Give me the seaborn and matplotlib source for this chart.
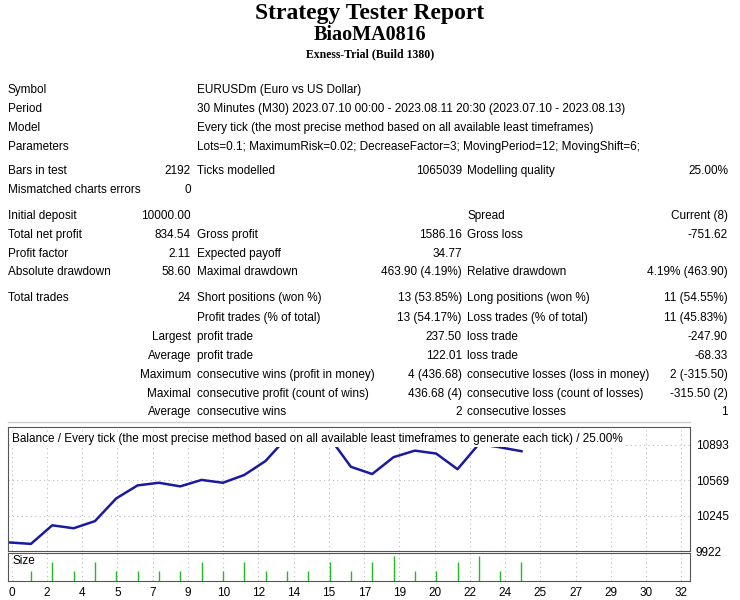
import numpy as np
import pandas as pd
import seaborn as sns
import matplotlib.pyplot as plt

# balance after each trade (trade 0 = initial deposit)
balance = [10000, 9987, 10157, 10130, 10195, 10403, 10522, 10546, 10513, 10572,
           10546, 10617, 10745, 10960, 10888, 10960, 10692, 10626, 10780, 10840,
           10813, 10670, 10900, 10870, 10834.54]
# lot size of each trade (trades 1..24)
lots = [0.1, 0.2, 0.1, 0.2, 0.1, 0.1, 0.1, 0.1, 0.2, 0.1, 0.2, 0.1,
        0.1, 0.1, 0.2, 0.1, 0.2, 0.26, 0.1, 0.1, 0.2, 0.26, 0.1, 0.2]
x_tick_labels = ["0", "2", "4", "5", "7", "9", "10", "12", "14", "15", "17", "19",
                 "20", "22", "24", "25", "27", "29", "30", "32"]
y_ticks = [9922, 10245, 10569, 10893]

header = [
    ("Symbol", "EURUSDm (Euro vs US Dollar)"),
    ("Period", "30 Minutes (M30) 2023.07.10 00:00 - 2023.08.11 20:30 (2023.07.10 - 2023.08.13)"),
    ("Model", "Every tick (the most precise method based on all available least timeframes)"),
    ("Parameters", "Lots=0.1; MaximumRisk=0.02; DecreaseFactor=3; MovingPeriod=12; MovingShift=6;"),
]
# rows: (y px, label, value1, label2, value2, label3, value3)
rows = [
    (171, "Bars in test", "2192", "Ticks modelled", "1065039", "Modelling quality", "25.00%"),
    (190, "Mismatched charts errors", "0", "", "", "", ""),
    (216, "Initial deposit", "10000.00", "", "", "Spread", "Current (8)"),
    (235, "Total net profit", "834.54", "Gross profit", "1586.16", "Gross loss", "-751.62"),
    (254, "Profit factor", "2.11", "Expected payoff", "34.77", "", ""),
    (272, "Absolute drawdown", "58.60", "Maximal drawdown", "463.90 (4.19%)", "Relative drawdown", "4.19% (463.90)"),
    (298, "Total trades", "24", "Short positions (won %)", "13 (53.85%)", "Long positions (won %)", "11 (54.55%)"),
    (318, "", "", "Profit trades (% of total)", "13 (54.17%)", "Loss trades (% of total)", "11 (45.83%)"),
    (337, "", "Largest", "profit trade", "237.50", "loss trade", "-247.90"),
    (356, "", "Average", "profit trade", "122.01", "loss trade", "-68.33"),
    (375, "", "Maximum", "consecutive wins (profit in money)", "4 (436.68)", "consecutive losses (loss in money)", "2 (-315.50)"),
    (394, "", "Maximal", "consecutive profit (count of wins)", "436.68 (4)", "consecutive loss (count of losses)", "-315.50 (2)"),
    (412, "", "Average", "consecutive wins", "2", "consecutive losses", "1"),
]

W, H = 740, 600
fig = plt.figure(figsize=(W / 100, H / 100), dpi=100)
font = {"family": ["Liberation Sans Narrow", "Liberation Sans", "DejaVu Sans"], "size": 8.5}
serif = ["Liberation Serif", "DejaVu Serif"]


def put(x, y, s, ha="left", **kw):
    opts = dict(font)
    opts.update(kw)
    fig.text(x / W, 1 - y / H, s, ha=ha, va="center", **opts)


put(370, 13, "Strategy Tester Report", ha="center", family=serif, size=17, weight="bold")
put(370, 35, "BiaoMA0816", ha="center", family=serif, size=14.5, weight="bold")
put(370, 54, "Exness-Trial (Build 1380)", ha="center", family=serif, size=8.5, weight="bold")

for i, (lab, val) in enumerate(header):
    y = 90 + i * 19
    put(8, y, lab)
    put(197, y, val)

for y, l1, v1, l2, v2, l3, v3 in rows:
    put(8, y, l1)
    put(191, y, v1, ha="right")
    put(197, y, l2)
    put(462, y, v2, ha="right")
    put(467, y, l3)
    put(728, y, v3, ha="right")

fig.add_artist(plt.Line2D([8 / W, 690 / W], [1 - 422 / H] * 2, color="#cccccc", lw=1))

# balance chart
ax = fig.add_axes([8 / W, 1 - 551 / H, 682 / W, 124 / H])
df = pd.DataFrame({"trade": np.arange(len(balance)), "balance": balance})
sns.lineplot(data=df, x="trade", y="balance", ax=ax, color="#1a1aa0", lw=1.8)
xmin, xmax = -0.075, 31.9
ax.set_xlim(xmin, xmax)
ax.set_ylim(9922, 11056)
ax.set_yticks(y_ticks)
ax.yaxis.tick_right()
ax.set_yticklabels([str(t) for t in y_ticks], fontdict=font)
xt = np.linspace(0.1, 31.5, len(x_tick_labels))
ax.set_xticks(xt)
ax.set_xticklabels([])
ax.tick_params(length=0, pad=4)
ax.grid(True, color="#bbbbbb", ls=(0, (1, 3)), lw=0.8)
ax.set_xlabel("")
ax.set_ylabel("")
ax.text(0.006, 0.9, "Balance / Every tick (the most precise method based on all available least timeframes to generate each tick) / 25.00%",
        transform=ax.transAxes, ha="left", va="center", fontdict=font,
        bbox=dict(facecolor="white", edgecolor="none", pad=1))
for s in ax.spines.values():
    s.set_color("#555555")

# size chart
ax2 = fig.add_axes([8 / W, 1 - 581 / H, 682 / W, 28 / H])
ax2.vlines(np.arange(1, len(lots) + 1), 0, lots, color="#22bb22", lw=1)
ax2.set_xlim(xmin, xmax)
ax2.set_ylim(0, 0.29)
ax2.set_yticks([])
ax2.set_xticks(xt)
ax2.set_xticklabels(x_tick_labels, fontdict=font)
ax2.tick_params(length=0, pad=4)
ax2.grid(True, axis="x", color="#bbbbbb", ls=(0, (1, 3)), lw=0.8)
ax2.text(0.006, 0.72, "Size", transform=ax2.transAxes, ha="left", va="center", fontdict=font)
for s in ax2.spines.values():
    s.set_color("#555555")

fig.savefig("out.png", dpi=100)
